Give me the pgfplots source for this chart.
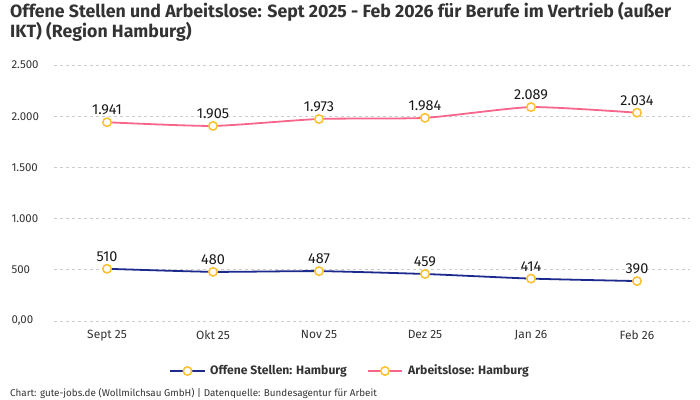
\documentclass[border=0pt]{standalone}
\usepackage{pgfplots}
\pgfplotsset{compat=1.18}
\usepackage{fontspec}
\setmainfont{Fira Sans}
\definecolor{navy}{HTML}{1B2A8C}
\definecolor{rosa}{HTML}{F7668A}
\definecolor{gelb}{HTML}{FBC02D}
\definecolor{txt}{HTML}{333333}
\definecolor{gridc}{HTML}{CCCCCC}
\begin{document}
\begin{tikzpicture}
\path[use as bounding box] (0,0) rectangle (700bp,-400bp);
\node[anchor=north west, align=left, font=\bfseries\fontsize{17.8}{19}\selectfont, text=txt, inner sep=0pt]
  at (10bp,-2bp) {Offene Stellen und Arbeitslose: Sept 2025 - Feb 2026 für Berufe im Vertrieb (außer\\IKT) (Region Hamburg)};
\begin{axis}[
    at={(54bp,-321bp)}, anchor=south west,
    scale only axis,
    width=636bp, height=256bp,
    xmin=-0.5, xmax=5.5,
    ymin=0, ymax=2500,
    axis line style={draw=none},
    xtick={0,...,5},
    xticklabels={Sept 25,Okt 25,Nov 25,Dez 25,Jan 26,Feb 26},
    ytick={0,500,1000,1500,2000,2500},
    yticklabels={{0,00},500,{1.000},{1.500},{2.000},{2.500}},
    tick style={draw=none},
    ymajorgrids,
    grid style={gridc, dashed, line width=0.8pt},
    xticklabel style={font=\fontsize{12}{14}\selectfont, text=txt, yshift=-6bp},
    yticklabel style={font=\fontsize{11.5}{13}\selectfont, text=txt, anchor=west, xshift=-46bp},
    /pgf/number format/.cd, 1000 sep={.}, assume math mode=true,
    /pgfplots/.cd,
    nodes near coords,
    every node near coord/.append style={font=\fontsize{14.5}{16}\selectfont, text=black!90, anchor=south, yshift=3bp},
    every axis plot/.append style={smooth, tension=0.35, line width=1.8pt,
        mark=*, mark size=4.2bp, mark options={draw=gelb, fill=white, line width=1.5pt}},
    clip=false,
]
\addplot[color=navy] coordinates {(0,510) (1,480) (2,487) (3,459) (4,414) (5,390)};
\addplot[color=rosa] coordinates {(0,1941) (1,1905) (2,1973) (3,1984) (4,2089) (5,2034)};
\end{axis}
% legend
\begin{scope}[font=\bfseries\fontsize{12.2}{14}\selectfont]
\draw[navy, line width=2pt] (170bp,-371bp) -- (205bp,-371bp);
\draw[gelb, fill=white, line width=1.5pt] (187.5bp,-371bp) circle (4.2bp);
\node[anchor=west, text=txt, inner sep=0pt] at (210bp,-371bp) {Offene Stellen: Hamburg};
\draw[rosa, line width=2pt] (368bp,-371bp) -- (402bp,-371bp);
\draw[gelb, fill=white, line width=1.5pt] (385bp,-371bp) circle (4.2bp);
\node[anchor=west, text=txt, inner sep=0pt] at (408bp,-371bp) {Arbeitslose: Hamburg};
\end{scope}
\node[anchor=west, text=txt, inner sep=0pt, font=\fontsize{9.9}{11}\selectfont] at (10bp,-393bp)
  {Chart: gute-jobs.de (Wollmilchsau GmbH) | Datenquelle: Bundesagentur für Arbeit};
\end{tikzpicture}
\end{document}
